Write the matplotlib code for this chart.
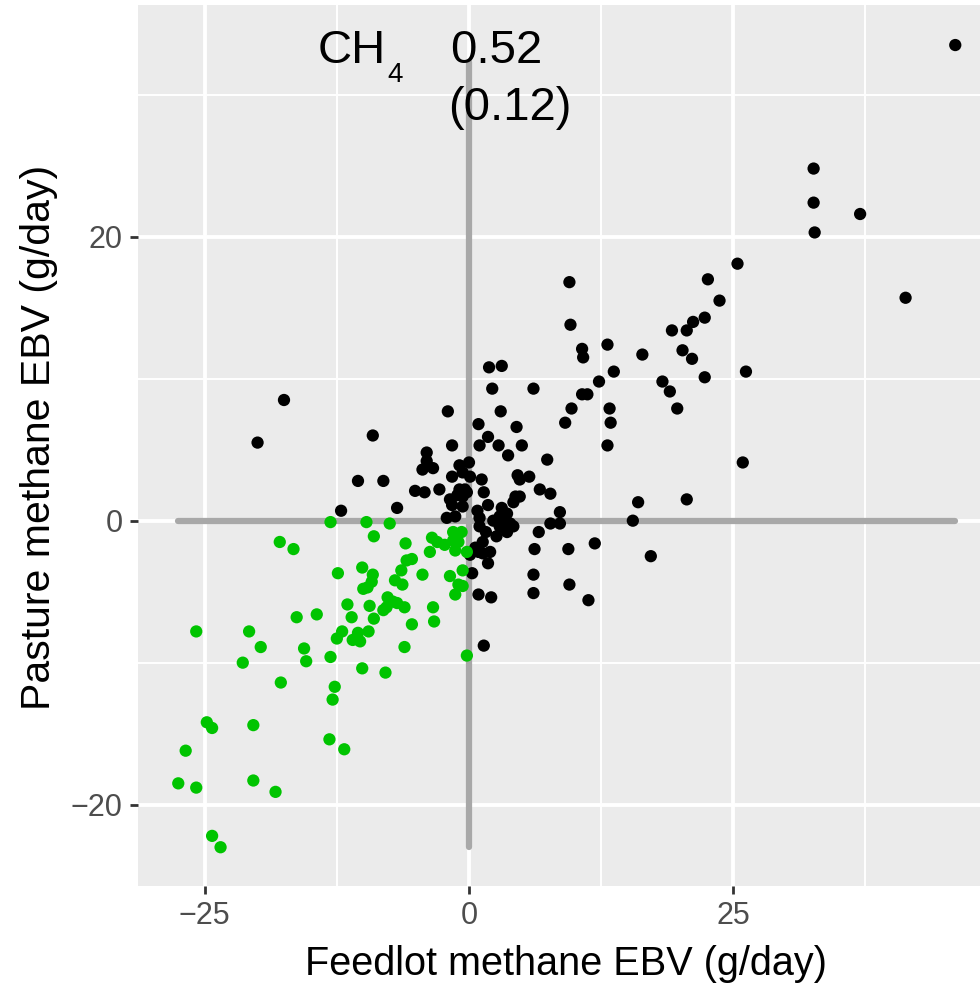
import matplotlib
matplotlib.use("Agg")
import matplotlib.pyplot as plt
import numpy as np

plt.rcParams['font.family'] = ['Liberation Sans', 'DejaVu Sans']

# Green points (both EBVs negative)
green_x = [-13.1, -9.7, -7.5, -9.0, -17.9, -16.6, -6.0, -3.5, -3.0, -3.7, -2.3, -1.5, -0.7, -1.3, -1.0,
           -1.5, -0.2, -5.9, -5.4, -12.4, -10.1, -9.1, -9.2, -10.0, -9.6, -6.4, -7.0, -6.3, -4.4, -1.8,
           -0.6, -1.0, -0.6, -1.3, -7.7, -7.8, -6.8, -6.1, -8.1, -7.2, -11.5, -9.4, -3.4, -3.3, -11.1,
           -9.0, -5.4, -12.0, -12.5, -10.5, -11.0, -10.3, -9.5, -6.1, -14.4, -16.3, -25.8, -20.8, -19.7,
           -21.4, -15.6, -15.4, -13.1, -10.1, -7.9, -0.2, -17.8, -12.7, -12.9, -24.8, -24.3, -20.4, -13.2,
           -11.8, -26.8, -27.5, -25.8, -20.4, -18.3, -24.3, -23.5]
green_y = [-0.1, -0.1, -0.2, -1.1, -1.5, -2.0, -1.6, -1.2, -1.5, -2.2, -1.7, -1.4, -0.8, -2.1, -1.5,
           -0.8, -2.2, -2.8, -2.7, -3.7, -3.3, -3.8, -4.3, -4.8, -4.7, -3.5, -4.2, -4.5, -3.8, -3.9,
           -3.5, -4.5, -4.6, -5.2, -5.4, -6.1, -5.8, -6.1, -6.3, -5.7, -5.9, -6.0, -6.1, -7.1, -6.8,
           -6.9, -7.3, -7.8, -8.3, -7.9, -8.4, -8.5, -7.8, -8.9, -6.6, -6.8, -7.8, -7.8, -8.9,
           -10.0, -9.0, -9.9, -9.6, -10.4, -10.7, -9.5, -11.4, -11.7, -12.6, -14.2, -14.6, -14.4, -15.4,
           -16.1, -16.2, -18.5, -18.8, -18.3, -19.1, -22.2, -23.0]

# Black points (all other animals)
black_x = [46.0, 32.6, 32.6, 37.0, 32.7, 25.4, 22.6, 41.3, 23.7, 22.3, 21.2, 20.6, 19.2, 9.5, 9.6,
           10.7, 10.8, 13.1, 16.4, 20.2, 21.1, 13.7, 12.3, 18.3, 19.0, 22.3, 26.2, 6.1, 10.7, 11.2,
           9.7, 13.3, 19.7, 9.1, 13.4, 4.5, 5.0, 13.1, 7.4, 25.9, 4.8, 5.7, 6.7, 7.7, 4.8,
           16.0, 20.6, 8.6, 7.7, 8.6, 15.5, 6.6, 6.2, 9.4, 11.9, 17.2, 6.1, 6.1, 9.5, 11.3,
           1.9, 3.1, 2.2, 3.0, -2.0, 0.9, -9.1, 1.8, -1.6, 1.0, 2.8, 3.7, -4.0, -4.0, -4.4,
           -3.4, -0.9, 0.0, -0.6, 0.1, -1.6, 1.2, 4.6, -10.5, -8.1, -5.1, -4.2, -2.8, -0.9, -0.4,
           -1.1, -0.6, -0.2, 1.4, 4.4, 4.2, -1.8, -1.6, -0.6, 1.8, 3.1, -12.1, -6.8, 0.8, -2.1,
           -1.3, 1.0, 2.9, 3.6, 2.3, 3.2, 3.9, 4.2, 2.9, 3.6, 2.6, 1.6, 1.0, 1.3, 0.6,
           0.9, 0.1, 1.3, 2.0, 1.8, 0.3, 0.9, 2.1, 1.4, -17.5, -20.0]
black_y = [33.5, 24.8, 22.4, 21.6, 20.3, 18.1, 17.0, 15.7, 15.5, 14.3, 14.0, 13.4, 13.4, 16.8, 13.8,
           12.1, 11.5, 12.4, 11.7, 12.0, 11.4, 10.5, 9.8, 9.8, 9.1, 10.1, 10.5, 9.3, 8.9, 8.9,
           7.9, 7.9, 7.9, 6.9, 6.9, 6.6, 5.3, 5.3, 4.3, 4.1, 2.9, 3.1, 2.2, 1.9, 1.7,
           1.3, 1.5, 0.6, -0.2, -0.2, 0.0, -0.8, -2.0, -2.0, -1.6, -2.5, -3.8, -5.1, -4.5, -5.6,
           10.8, 10.9, 9.3, 7.7, 7.7, 6.8, 6.0, 5.9, 5.3, 5.3, 5.3, 4.6, 4.8, 4.2, 3.6,
           3.7, 3.9, 4.1, 3.4, 3.1, 3.1, 2.9, 3.2, 2.8, 2.8, 2.1, 2.0, 2.2, 2.2, 2.2,
           1.8, 1.7, 2.0, 2.0, 1.7, 1.3, 1.5, 1.1, 1.0, 1.1, 0.9, 0.7, 0.9, 0.7, 0.2,
           0.3, 0.2, 0.3, 0.5, 0.0, -0.1, -0.2, -0.4, -0.4, -0.8, -1.1, -0.8, -0.4, -1.5, -1.9,
           -2.2, -2.4, -2.3, -2.2, -3.0, -3.7, -5.2, -5.4, -8.8, 8.5, 5.5]

x_ticks = [-25, 0, 25]
y_ticks = [-20, 0, 20]
x_minor = [-12.5, 12.5, 37.5]
y_minor = [-10, 10, 30]
vline_top = 32.3
xlabel = "Feedlot methane EBV (g/day)"
ylabel = "Pasture methane EBV (g/day)"

fig = plt.figure(figsize=(9.8, 9.86), dpi=100)
ax = fig.add_axes([138/980, 1-886/986, (980-138)/980, (886-5)/986])
ax.set_facecolor('#EBEBEB')
for s in ax.spines.values():
    s.set_visible(False)

ax.set_xlim(-31.31, 48.34)
ax.set_ylim(-25.73, 36.32)
ax.set_xticks(x_ticks)
ax.set_yticks(y_ticks)
ax.set_xticks(x_minor, minor=True)
ax.set_yticks(y_minor, minor=True)
ax.set_xticklabels([str(v).replace('-', '\u2212') for v in x_ticks])
ax.set_yticklabels([str(v).replace('-', '\u2212') for v in y_ticks])
ax.grid(True, which='major', color='white', lw=2.8, zorder=0)
ax.grid(True, which='minor', color='white', lw=1.4, zorder=0)
ax.set_axisbelow(True)
ax.tick_params(which='major', length=6, width=2.0, color='#333333',
               labelsize=22, labelcolor='#4D4D4D', pad=5)
ax.tick_params(which='minor', length=0)

gx = np.array(green_x); gy = np.array(green_y)
bx = np.array(black_x); by = np.array(black_y)
allx = np.concatenate([gx, bx]); ally = np.concatenate([gy, by])

lc = '#A8A8A8'
ax.plot([allx.min(), allx.max()], [0, 0], color=lc, lw=4.5, solid_capstyle='round', zorder=2)
ax.plot([0, 0], [ally.min(), vline_top], color=lc, lw=4.5, solid_capstyle='round', zorder=2)

ax.scatter(bx, by, s=78, color='black', edgecolors='none', zorder=3)
ax.scatter(gx, gy, s=78, color='#00C400', edgecolors='none', zorder=3)

ax.text(-14.29, 32.23, "CH", fontsize=34, ha='left', va='baseline', zorder=4)
ax.text(-7.76, 30.89, "4", fontsize=20, ha='left', va='baseline', zorder=4)
ax.text(-1.80, 32.23, "0.52", fontsize=34, ha='left', va='baseline', zorder=4)
ax.text(-1.99, 28.22, "(0.12)", fontsize=34, ha='left', va='baseline', zorder=4)

fig.text(566/980, 1-975/986, xlabel, fontsize=28.5, ha='center', va='baseline')
fig.text(39/980, 1-437/986, ylabel, fontsize=29.5, ha='center', va='center', rotation=90)

fig.savefig("out.png", dpi=100)
